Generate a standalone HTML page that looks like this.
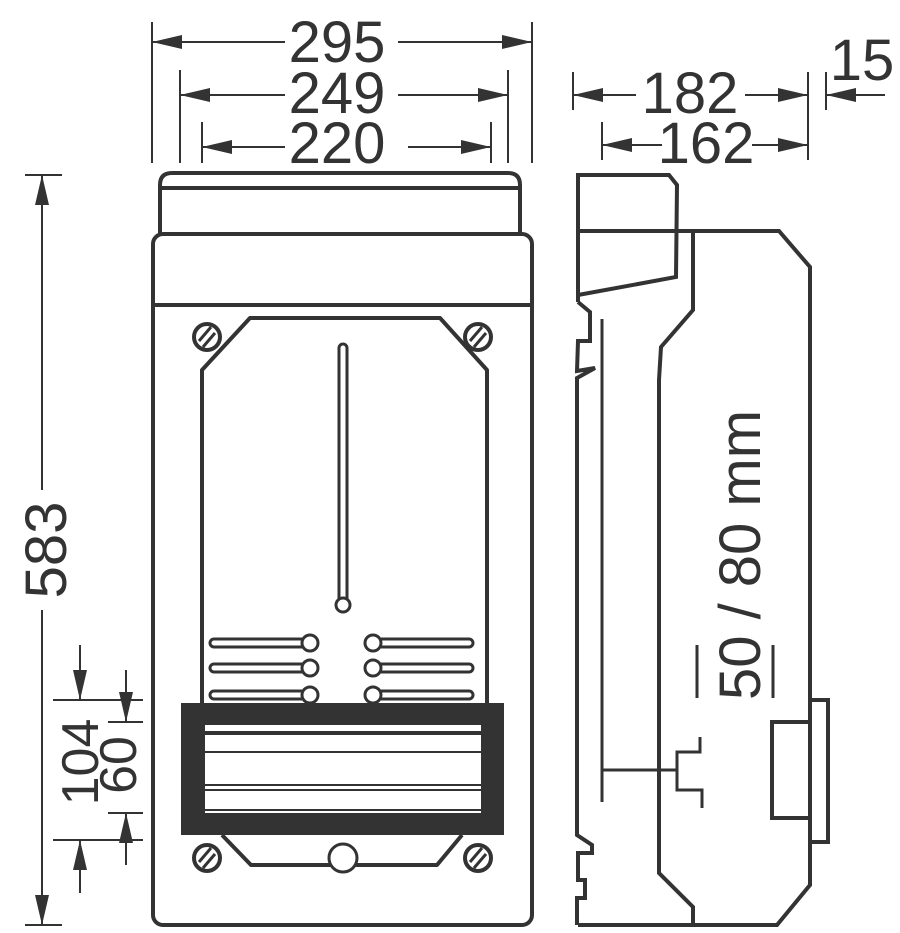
<!DOCTYPE html>
<html><head><style>body{margin:0;background:#fff}svg{display:block}text{font-family:"Liberation Sans",sans-serif;fill:#333}</style></head>
<body>
<svg width="900" height="933" viewBox="0 0 900 933" xmlns="http://www.w3.org/2000/svg">
<defs>
<marker id="a" viewBox="0 0 30 14" refX="30" refY="7" markerWidth="30" markerHeight="14" markerUnits="userSpaceOnUse" orient="auto"><path d="M0,0L30,7L0,14Z" fill="#333"/></marker>
</defs>
<g stroke="#333" stroke-width="2" fill="none">
<!-- top dims -->
<line x1="152" y1="22" x2="152" y2="163"/><line x1="532" y1="22" x2="532" y2="163"/>
<line x1="180" y1="70" x2="180" y2="163"/><line x1="508" y1="70" x2="508" y2="163"/>
<line x1="202" y1="122" x2="202" y2="163"/><line x1="491" y1="122" x2="491" y2="163"/>
<line x1="285" y1="42" x2="152" y2="42" marker-end="url(#a)"/><line x1="398" y1="42" x2="532" y2="42" marker-end="url(#a)"/>
<line x1="285" y1="95" x2="180" y2="95" marker-end="url(#a)"/><line x1="398" y1="95" x2="508" y2="95" marker-end="url(#a)"/>
<line x1="285" y1="147" x2="202" y2="147" marker-end="url(#a)"/><line x1="408" y1="147" x2="491" y2="147" marker-end="url(#a)"/>
<!-- side dims -->
<line x1="573" y1="72" x2="573" y2="110"/><line x1="808" y1="72" x2="808" y2="160"/><line x1="826" y1="72" x2="826" y2="110"/><line x1="602" y1="122" x2="602" y2="160"/>
<line x1="636" y1="95" x2="573" y2="95" marker-end="url(#a)"/><line x1="745" y1="95" x2="808" y2="95" marker-end="url(#a)"/>
<line x1="885" y1="95" x2="826" y2="95" marker-end="url(#a)"/>
<line x1="662" y1="145" x2="602" y2="145" marker-end="url(#a)"/><line x1="752" y1="145" x2="808" y2="145" marker-end="url(#a)"/>
<!-- left dims -->
<line x1="25" y1="175" x2="62" y2="175"/><line x1="25" y1="925" x2="62" y2="925"/>
<line x1="42" y1="490" x2="42" y2="175" marker-end="url(#a)"/><line x1="42" y1="610" x2="42" y2="925" marker-end="url(#a)"/>
<line x1="53" y1="700" x2="143" y2="700"/><line x1="53" y1="840" x2="143" y2="840"/>
<line x1="108" y1="722" x2="143" y2="722"/><line x1="108" y1="813" x2="143" y2="813"/>
<line x1="80" y1="645" x2="80" y2="700" marker-end="url(#a)"/><line x1="80" y1="893" x2="80" y2="840" marker-end="url(#a)"/>
<line x1="126" y1="670" x2="126" y2="722" marker-end="url(#a)"/><line x1="126" y1="865" x2="126" y2="813" marker-end="url(#a)"/>
</g>
<g fill="#333" font-size="58">
<text x="337" y="62" text-anchor="middle">295</text>
<text x="337" y="113" text-anchor="middle">249</text>
<text x="337" y="163" text-anchor="middle">220</text>
<text x="690" y="113" text-anchor="middle">182</text>
<text x="862" y="80" text-anchor="middle">15</text>
<text x="706" y="163" text-anchor="middle">162</text>
<text transform="translate(66,550) rotate(-90)" text-anchor="middle">583</text>
<text transform="translate(98,762) rotate(-90)" text-anchor="middle" font-size="52">104</text>
<text transform="translate(136,765) rotate(-90)" text-anchor="middle" font-size="52">60</text>
<text transform="translate(760,555) rotate(-90)" text-anchor="middle" textLength="290" lengthAdjust="spacingAndGlyphs">50 / 80 mm</text>
</g>
<g stroke="#333" stroke-width="4" fill="none" stroke-linejoin="round">
<!-- front -->
<path d="M160,233V185Q160,173 172,173H508Q520,173 520,185V233"/>
<line x1="160" y1="188" x2="520" y2="188"/>
<rect x="153" y="234" width="379" height="691" rx="10"/>
<line x1="153" y1="305" x2="532" y2="305"/>
<path d="M202,703V370L250,318H440L487,370V703"/>
<path d="M222,835L251,865H437L462,835"/>
<path d="M339,605V348a4,4 0 0 1 8,0V605" stroke-width="3"/>
<circle cx="343" cy="605" r="7" fill="#fff" stroke-width="3"/>
<circle cx="343" cy="858" r="14" fill="#fff" stroke-width="3"/>
</g>
<g stroke="#333" stroke-width="3" fill="#fff">
<path d="M302,639H214a4,4 0 0 0 0,8H302"/><circle cx="310" cy="643" r="8"/>
<path d="M302,664H214a4,4 0 0 0 0,8H302"/><circle cx="310" cy="668" r="8"/>
<path d="M302,691H214a4,4 0 0 0 0,8H302"/><circle cx="310" cy="695" r="8"/>
<path d="M381,639H469a4,4 0 0 1 0,8H381"/><circle cx="373" cy="643" r="8"/>
<path d="M381,664H469a4,4 0 0 1 0,8H381"/><circle cx="373" cy="668" r="8"/>
<path d="M381,691H469a4,4 0 0 1 0,8H381"/><circle cx="373" cy="695" r="8"/>
</g>
<g stroke="#333" stroke-width="4" fill="#fff">
<circle cx="207" cy="337" r="13"/><circle cx="478" cy="337" r="13"/>
<circle cx="207" cy="858" r="13"/><circle cx="478" cy="858" r="13"/>
</g>
<g stroke="#333" stroke-width="3">
<path d="M199,341L211,327M203,347L215,333"/><path d="M470,341L482,327M474,347L486,333"/>
<path d="M199,862L211,848M203,868L215,854"/><path d="M470,862L482,848M474,868L486,854"/>
</g>
<rect x="181" y="703" width="323" height="132" fill="#333"/>
<rect x="205" y="725" width="276" height="88" fill="#fff"/>
<g stroke="#333">
<line x1="205" y1="733" x2="481" y2="733" stroke-width="4"/>
<line x1="205" y1="752" x2="481" y2="752" stroke-width="2"/>
<line x1="205" y1="785" x2="481" y2="785" stroke-width="2"/>
<line x1="205" y1="790" x2="481" y2="790" stroke-width="2"/>
<line x1="205" y1="810" x2="481" y2="810" stroke-width="2"/>
</g>
<!-- side -->
<g stroke="#333" stroke-width="4" fill="none" stroke-linejoin="miter">
<path d="M578,302V175H669L677,185L676,277L578,295"/>
<path d="M578,231H779L810,267V885L777,925H578"/>
<path d="M693,233V310L661,347L659,380V873L693,907V925"/>
<path d="M578,302L590,312V341L578,341L577,371L595,368L577,378V835L592,845V853H578V880H585V898H577V925"/>
<line x1="602" y1="319" x2="602" y2="802" stroke-width="3"/>
<path d="M602,770H677M677,770V752H700V737M677,770V790H702V808" stroke-width="3"/>
<path d="M810,700H828V842H810"/>
<path d="M810,722H772V818H810"/>
<line x1="697" y1="645" x2="697" y2="698" stroke-width="3"/>
<line x1="773" y1="645" x2="773" y2="698" stroke-width="3"/>
</g>
</svg>
</body></html>
